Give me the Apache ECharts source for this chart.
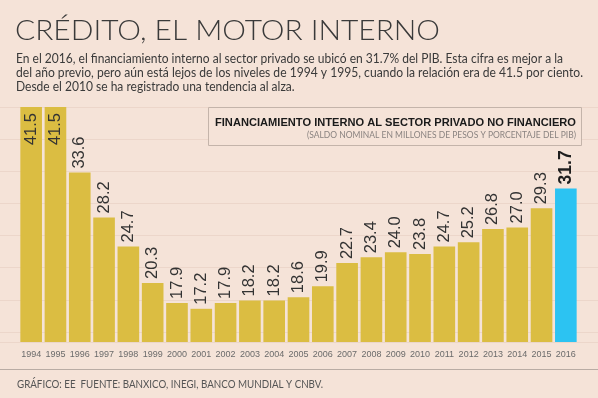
<!DOCTYPE html>
<html>
<head>
<meta charset="utf-8">
<script src="https://cdn.jsdelivr.net/npm/echarts@6/dist/echarts.min.js"></script>
<style>
  html, body { margin: 0; padding: 0; background: #f5e3d8; }
  #main { width: 598px; height: 398px; }
</style>
</head>
<body>
<div id="main"></div>
<script>
// datos
var years = ['1994', '1995', '1996', '1997', '1998', '1999', '2000', '2001', '2002', '2003', '2004', '2005',
  '2006', '2007', '2008', '2009', '2010', '2011', '2012', '2013', '2014', '2015', '2016'];
var valores = [41.5, 41.5, 33.6, 28.2, 24.7, 20.3, 17.9, 17.2, 17.9, 18.2, 18.2, 18.6,
  19.9, 22.7, 23.4, 24.0, 23.8, 24.7, 25.2, 26.8, 27.0, 29.3, 31.7];
var destacado = '2016';

var titulo = 'CRÉDITO, EL MOTOR INTERNO';
var parrafo = [
  'En el 2016, el financiamiento interno al sector privado se ubicó en 31.7% del PIB. Esta cifra es mejor a la',
  'del año previo, pero aún está lejos de los niveles de 1994 y 1995, cuando la relación era de 41.5 por ciento.',
  'Desde el 2010 se ha registrado una tendencia al alza.'
];
var cajaTitulo = 'FINANCIAMIENTO INTERNO AL SECTOR PRIVADO NO FINANCIERO';
var cajaSub = '(SALDO NOMINAL EN MILLONES DE PESOS Y PORCENTAJE DEL PIB)';
var fuente = 'GRÁFICO: EE  FUENTE: BANXICO, INEGI, BANCO MUNDIAL Y CNBV.';

var yMin = 13.2, yMax = 41.5;
var sans = '"Liberation Sans", Arial, sans-serif';

var bg = '#f5e3d8';
var dorado = '#dbbd42';
var azul = '#2cc3f2';

// ancho de texto para ajustar la escala horizontal
var ctx = document.createElement('canvas').getContext('2d');
function escala(texto, font, ancho) {
  ctx.font = font;
  return ancho / ctx.measureText(texto).width;
}

var myChart = echarts.init(document.getElementById('main'));

var barData = valores.map(function (v, i) {
  var item = { value: v, itemStyle: { color: years[i] === destacado ? azul : dorado } };
  if (v >= yMax) {
    item.label = { position: 'insideTop', align: 'right', distance: 6 };
  }
  if (years[i] === destacado) {
    item.label = { fontWeight: 'bold', fontSize: 17.5, color: '#1e1e1e' };
  }
  return item;
});

function texto(x, y, str, font, ancho, color, align, z) {
  return {
    type: 'text', x: x, y: y, z: z || 1,
    scaleX: escala(str, font, ancho),
    style: { x: 0, y: 0, text: str, font: font, fill: color, align: align || 'left', verticalAlign: 'middle' }
  };
}

var fTitulo = '300 28px Lato, sans-serif';
var fParrafo = '12.5px Lato, sans-serif';
var graphics = [
  texto(15, 31, titulo, fTitulo, 425, '#3a3a3a'),
  { type: 'line', shape: { x1: 0, y1: 107.5, x2: 598, y2: 107.5 }, style: { stroke: '#d8c6bb', lineWidth: 1 } },
  { type: 'rect', z: 10, shape: { x: 208.5, y: 107.5, width: 373, height: 38 }, style: { fill: bg, stroke: '#c4b4aa', lineWidth: 1 } },
  texto(576, 123, cajaTitulo, 'bold 10px ' + sans, 361, '#1a1a1a', 'right', 11),
  texto(576, 135.5, cajaSub, '8.5px Lato, sans-serif', 269, '#8a8380', 'right', 11),
  { type: 'line', shape: { x1: 15, y1: 342.5, x2: 582, y2: 342.5 }, style: { stroke: '#b9aca4', lineWidth: 1 } },
  { type: 'line', shape: { x1: 0, y1: 369.5, x2: 598, y2: 369.5 }, style: { stroke: '#b9aca4', lineWidth: 1 } },
  texto(17, 384.5, fuente, '10.5px Lato, sans-serif', 306, '#555')
];
var anchos = [547, 567, 280];
parrafo.forEach(function (linea, i) {
  graphics.push(texto(16, 58.5 + i * 14.3, linea, fParrafo, anchos[i], '#3a3a3a'));
});
// la tercera linea usa la misma escala que la primera
graphics[graphics.length - 1].scaleX = graphics[graphics.length - 3].scaleX;

myChart.setOption({
  backgroundColor: bg,
  animation: false,
  grid: [
    { left: 19, right: 20, top: 107, bottom: 56 },
    { left: 0, right: 0, top: 107, bottom: 56 }
  ],
  xAxis: [{
    type: 'category',
    gridIndex: 0,
    data: years,
    axisLine: { show: false },
    axisTick: { show: false },
    axisLabel: { color: '#6b6b6b', fontSize: 9, fontFamily: sans, margin: 8, interval: 0 }
  }, {
    type: 'value',
    gridIndex: 1,
    show: false
  }],
  yAxis: [{
    type: 'value',
    gridIndex: 0,
    min: yMin,
    max: yMax,
    show: false
  }, {
    // lineas guia decorativas
    type: 'value',
    gridIndex: 1,
    inverse: true,
    min: 0,
    max: 235,
    interval: 32.14,
    axisLine: { show: false },
    axisTick: { show: false },
    axisLabel: { show: false },
    splitLine: { lineStyle: { color: '#ecd6ca', width: 1 } }
  }],
  series: [{
    type: 'bar',
    xAxisIndex: 0,
    yAxisIndex: 0,
    data: barData,
    barCategoryGap: '11%',
    label: {
      show: true,
      position: 'top',
      rotate: 90,
      align: 'left',
      verticalAlign: 'middle',
      distance: 4,
      fontSize: 16.5,
      fontFamily: sans,
      color: '#333',
      formatter: function (p) { return p.value.toFixed(1); }
    }
  }],
  graphic: graphics
});
</script>
</body>
</html>
